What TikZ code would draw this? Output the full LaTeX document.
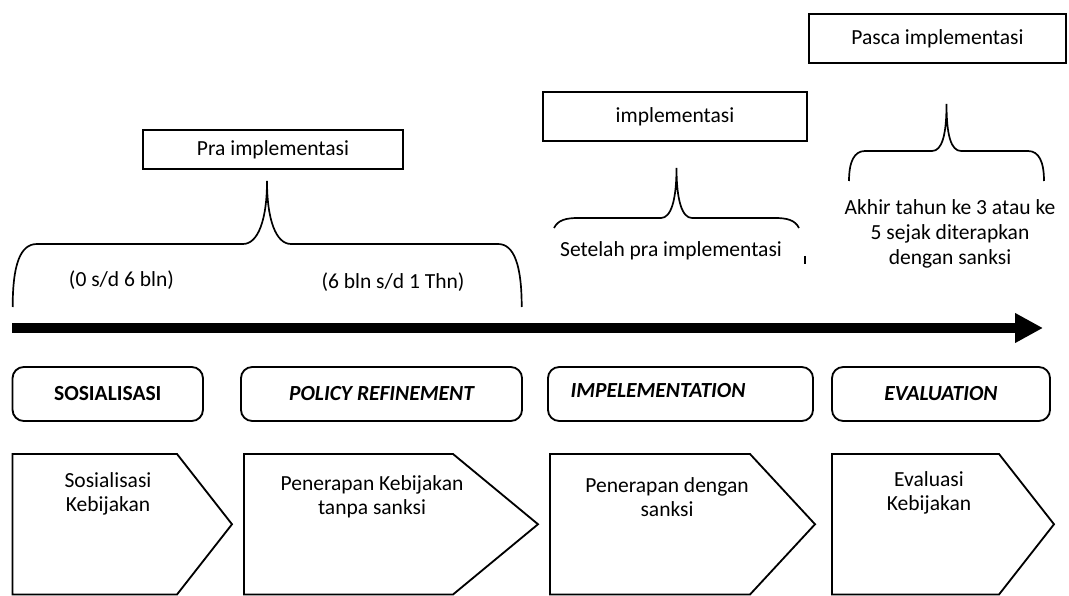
\documentclass[tikz,border=0pt]{standalone}
\usepackage{fontspec}
\setmainfont{Carlito}
\usetikzlibrary{arrows.meta}

\begin{document}
\begin{tikzpicture}[x=0.025cm, y=-0.025cm,
    every node/.style={font=\fontsize{15.3}{17}\selectfont, inner sep=0pt},
    kotak/.style={draw, line width=1.3pt},
    fase/.style={draw, line width=1.3pt, rounded corners=8pt, minimum height=1.35cm},
    judul/.style={font=\fontsize{15.3}{17}\selectfont\bfseries\itshape},
    isi/.style={align=center},
    kurung/.style={line width=1.2pt},
    panah/.style={draw, line width=1.3pt, line join=miter}]
    \useasboundingbox (0,0) rectangle (1069,596);

    \node[kotak, minimum width=6.425cm, minimum height=1.225cm] (pasca) at (937.5,38.5) {Pasca implementasi};
    \node[kotak, minimum width=6.6cm, minimum height=1.225cm] (impl) at (675,116.5) {implementasi};
    \node[kotak, minimum width=6.5cm, minimum height=0.975cm] (pra) at (273,149.5) {Pra implementasi};

    \draw[kurung] (12.7,307) .. controls (12.7,265) and (20,244) .. (37,244) -- (243,244)
        .. controls (258,244) and (267,220) .. (267,181)
        .. controls (267,220) and (276,244) .. (291,244) -- (498,244)
        .. controls (514,244) and (521.7,265) .. (521.7,307);
    \draw[kurung] (554,228) .. controls (558,220) and (566,218) .. (578,218) -- (661,218)
        .. controls (671,218) and (676.5,200) .. (676.5,168)
        .. controls (676.5,200) and (682,218) .. (692,218) -- (775,218)
        .. controls (787,218) and (795,220) .. (799,228);
    \draw[kurung] (805,256) -- (805,264);
    \draw[kurung] (849,181) .. controls (849,162) and (854,151) .. (865,151) -- (932,151)
        .. controls (942,151) and (946.5,135) .. (946.5,104)
        .. controls (946.5,135) and (951,151) .. (961,151) -- (1028,151)
        .. controls (1039,151) and (1044,162) .. (1044,181);

    \node (bln1) at (121.5,280) {(0 s/d 6 bln)};
    \node (bln2) at (393,282) {(6 bln s/d 1 Thn)};
    \node (setelah) at (671,251) {Setelah pra implementasi};
    \node[isi, font=\fontsize{15.3}{18}\selectfont] (akhir) at (950,234) {Akhir tahun ke 3 atau ke\\5 sejak diterapkan\\dengan sanksi};

    \coordinate (mulai) at (12,328);
    \coordinate (ujung) at (1043,328);
    \draw[line width=0.25cm, -{Triangle[length=0.7cm, width=0.7cm]}] (mulai) -- (ujung);

    \node[fase, minimum width=4.76cm, font=\fontsize{15.3}{17}\selectfont\bfseries] (sos) at (107.75,394) {SOSIALISASI};
    \node[fase, judul, minimum width=7.025cm] (ref) at (381.5,394) {POLICY REFINEMENT};
    \node[fase, minimum width=6.625cm] (imp) at (680.5,394) {};
    \node[judul] (imptxt) at (658,391) {IMPELEMENTATION};
    \node[fase, judul, minimum width=5.45cm] (eva) at (941,394) {EVALUATION};

    \draw[panah] (12.5,454) -- (177,454) -- (232,524.25) -- (177,594.5) -- (12.5,594.5) -- cycle;
    \draw[panah] (244,454) -- (453,454) -- (538,524.25) -- (453,594.5) -- (244,594.5) -- cycle;
    \draw[panah] (550,454) -- (750,454) -- (815,524.25) -- (750,594.5) -- (550,594.5) -- cycle;
    \draw[panah] (832,454) -- (999,454) -- (1054,524.25) -- (999,594.5) -- (832,594.5) -- cycle;

    \node[isi] (k1) at (108,494) {Sosialisasi\\Kebijakan};
    \node[isi] (k2) at (372,497) {Penerapan Kebijakan\\tanpa sanksi};
    \node[isi] (k3) at (667,497) {Penerapan dengan\\sanksi};
    \node[isi] (k4) at (929,493) {Evaluasi\\Kebijakan};
\end{tikzpicture}
\end{document}
